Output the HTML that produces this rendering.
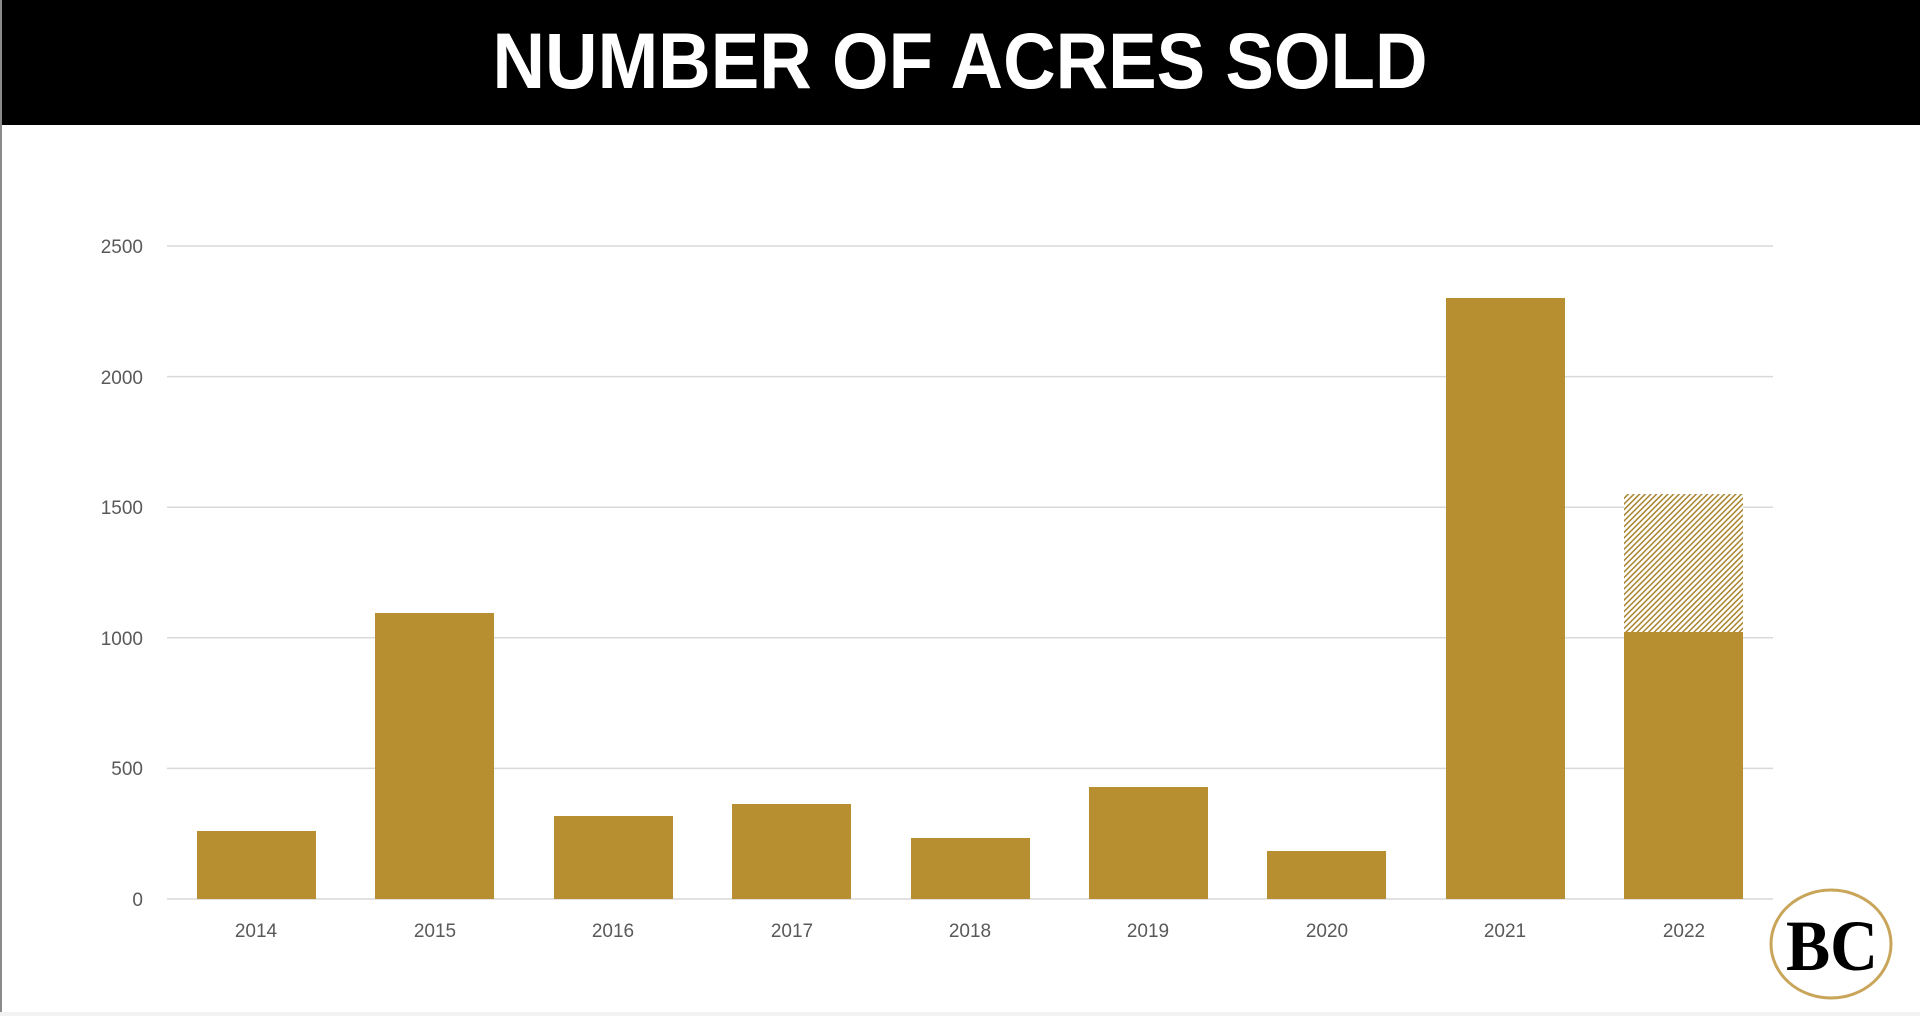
<!DOCTYPE html>
<html><head><style>
html,body{margin:0;padding:0;background:#fff;}
svg{display:block;}
</style></head><body>
<svg width="1920" height="1016" viewBox="0 0 1920 1016" xmlns="http://www.w3.org/2000/svg">
<defs>
<pattern id="h" width="4" height="4" patternUnits="userSpaceOnUse" patternTransform="rotate(45)">
<rect width="4" height="4" fill="#fff"/>
<rect width="1.5" height="4" fill="#a8842e"/>
</pattern>
</defs>
<rect x="0" y="0" width="1920" height="1016" fill="#fff"/>
<rect x="0" y="0" width="1920" height="125" fill="#000"/>
<rect x="0" y="0" width="2" height="1016" fill="#8a8a8a"/>
<rect x="0" y="1012" width="1920" height="4" fill="#f2f2f2"/>
<text x="960" y="88" text-anchor="middle" font-family="Liberation Sans, sans-serif" font-weight="bold" font-size="79" fill="#fff" textLength="935" lengthAdjust="spacingAndGlyphs">NUMBER OF ACRES SOLD</text>
<g stroke="#d9d9d9" stroke-width="1.5">
<line x1="167" x2="1773" y1="246" y2="246"/>
<line x1="167" x2="1773" y1="376.6" y2="376.6"/>
<line x1="167" x2="1773" y1="507.2" y2="507.2"/>
<line x1="167" x2="1773" y1="637.8" y2="637.8"/>
<line x1="167" x2="1773" y1="768.4" y2="768.4"/>
<line x1="167" x2="1773" y1="899" y2="899"/>
</g>
<g font-family="Liberation Sans, sans-serif" font-size="19" fill="#595959" text-anchor="end">
<text x="143" y="253">2500</text>
<text x="143" y="384">2000</text>
<text x="143" y="514">1500</text>
<text x="143" y="645">1000</text>
<text x="143" y="775">500</text>
<text x="143" y="906">0</text>
</g>
<g fill="#b78f30">
<rect x="197" y="831" width="119" height="68"/>
<rect x="375" y="613" width="119" height="286"/>
<rect x="554" y="816" width="119" height="83"/>
<rect x="732" y="804" width="119" height="95"/>
<rect x="911" y="838" width="119" height="61"/>
<rect x="1089" y="787" width="119" height="112"/>
<rect x="1267" y="851" width="119" height="48"/>
<rect x="1446" y="298" width="119" height="601"/>
<rect x="1624" y="632" width="119" height="267"/>
</g>
<rect x="1624" y="494" width="119" height="138" fill="url(#h)"/>
<g font-family="Liberation Sans, sans-serif" font-size="19" fill="#595959" text-anchor="middle">
<text x="256" y="937">2014</text>
<text x="435" y="937">2015</text>
<text x="613" y="937">2016</text>
<text x="792" y="937">2017</text>
<text x="970" y="937">2018</text>
<text x="1148" y="937">2019</text>
<text x="1327" y="937">2020</text>
<text x="1505" y="937">2021</text>
<text x="1684" y="937">2022</text>
</g>
<ellipse cx="1831" cy="944" rx="60" ry="54" fill="#fff" stroke="#c9a55a" stroke-width="3"/>
<text x="1832" y="970" text-anchor="middle" font-family="Liberation Serif, serif" font-weight="bold" font-size="72" fill="#000" textLength="92" lengthAdjust="spacingAndGlyphs">BC</text>
</svg>
</body></html>
